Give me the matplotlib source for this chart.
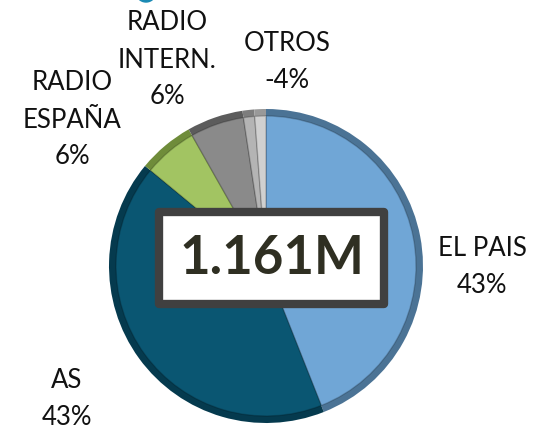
import matplotlib.pyplot as plt
from matplotlib.patches import Rectangle, Circle

# slices, clockwise from 12 o'clock
medios = ["EL PAIS", "AS", "RADIO ESPAÑA", "RADIO INTERN.", "OTROS", "OTROS"]
valores = [44, 42, 5.8, 5.8, 1.2, 1.2]
colores = ["#70a6d6", "#0a5672", "#a2c462", "#8a8a8a", "#b4b4b4", "#d0d0d0"]
bordes = ["#4b7395", "#053a4e", "#6f8c3a", "#5c5c5c", "#7d7d7d", "#999999"]

# labels shown around the pie
etiquetas = ["EL PAIS\n43%", "AS\n43%", "RADIO\nESPAÑA\n6%", "RADIO\nINTERN.\n6%", "OTROS\n-4%"]
total = "1.161M"

plt.rcParams['font.family'] = ['Lato', 'DejaVu Sans']

fig = plt.figure(figsize=(5.39, 4.38), dpi=100)
ax = fig.add_axes([0, 0, 1, 1])

cx, cy, r = 266, 172, 157
# darker rim, then the lighter face on top
ax.pie(valores, colors=bordes, startangle=90, counterclock=False,
       center=(cx, cy), radius=r, wedgeprops=dict(linewidth=0))
ax.pie(valores, colors=colores, startangle=90, counterclock=False,
       center=(cx, cy), radius=r - 7,
       wedgeprops=dict(linewidth=1, edgecolor="#00000030"))

ax.set_xlim(0, 539)
ax.set_ylim(0, 438)
ax.set_aspect('equal')
ax.axis('off')

# cut-off icon at the top
ax.add_patch(Circle((146, 446), 10, color="#1a8ab4", clip_on=True))

# label positions (x, y of block centre)
pos = [(482, 171), (67, 39), (72, 318), (167, 378), (287, 376)]
for t, (x, y) in zip(etiquetas, pos):
    ax.text(x, y, t, ha='center', va='center', fontsize=18.5,
            color="#111111", linespacing=1.6)

ax.add_patch(Rectangle((159, 134), 225, 92, facecolor="white",
                       edgecolor="#404040", linewidth=6, joinstyle='round'))
ax.text(272, 180, total, ha='center', va='center', fontsize=38,
        fontweight='bold', color="#2f2f22")

fig.savefig("out.png", dpi=100)
